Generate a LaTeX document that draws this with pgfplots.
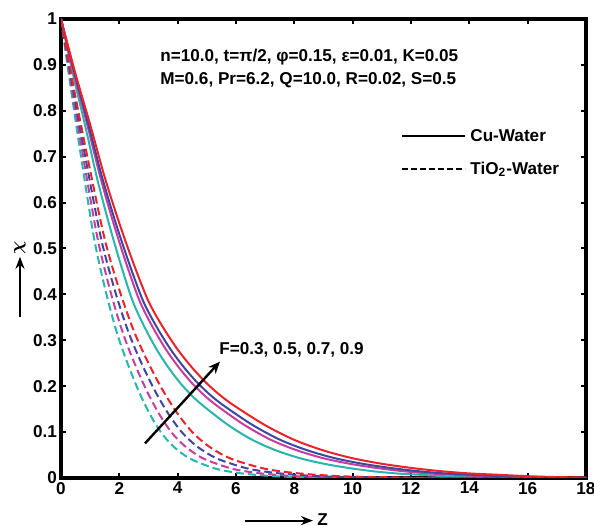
\documentclass[border=0pt]{standalone}
\usepackage{amsmath}
\usepackage{fontspec}
\setmainfont{Liberation Sans}
\usepackage{pgfplots}
\pgfplotsset{compat=1.18}
\usetikzlibrary{arrows.meta}

\definecolor{cred}{RGB}{235,35,40}
\definecolor{cblue}{RGB}{60,72,160}
\definecolor{cmag}{RGB}{200,60,160}
\definecolor{ccyan}{RGB}{40,180,175}

\newcommand{\lbl}{\fontsize{8.6}{10}\selectfont\bfseries}

\begin{document}
\lbl
\begin{tikzpicture}
\path[use as bounding box] (-30.5bp,-24bp) rectangle (266.5bp,239bp);
\begin{axis}[
    at={(0,0)}, anchor=south west,
    scale only axis,
    width=262.5bp, height=229.5bp,
    xmin=0, xmax=18, ymin=0, ymax=1,
    xtick={0,2,4,6,8,10,12,14,16,18},
    xticklabels={0,2,4,6,8,10,12,14,16,18},
    ytick={0,0.1,0.2,0.3,0.4,0.5,0.6,0.7,0.8,0.9,1},
    yticklabels={0,0.1,0.2,0.3,0.4,0.5,0.6,0.7,0.8,0.9,1},
    tick align=inside,
    major tick length=2.5bp,
    tick style={line width=1bp, black},
    axis line style={line width=1.6bp},
    ticklabel style={font=\lbl},
    xticklabel style={yshift=1bp},
    yticklabel style={xshift=1bp},
    clip=true,
]
% Cu-Water (solid), F = 0.3, 0.5, 0.7, 0.9
\addplot[ccyan, line width=1bp, smooth] coordinates {
(0,1) (0.41,0.88) (0.82,0.77) (1.23,0.655) (1.64,0.555) (2.05,0.465) (2.46,0.385)
(2.87,0.328) (3.28,0.28) (3.69,0.24) (4.10,0.206) (4.51,0.178) (4.92,0.155)
(5.74,0.115) (6.56,0.083) (7.38,0.06) (8.2,0.043) (9.02,0.031) (9.84,0.022)
(10.66,0.015) (11.48,0.010) (12.3,0.007) (13.12,0.004) (13.94,0.002) (14.76,0.001) (18,0)};
\addplot[cmag, line width=1bp, smooth] coordinates {
(0,1) (0.45,0.88) (0.9,0.77) (1.35,0.655) (1.8,0.555) (2.25,0.465) (2.7,0.385)
(3.15,0.328) (3.6,0.28) (4.05,0.24) (4.5,0.206) (4.95,0.178) (5.4,0.155)
(6.3,0.115) (7.2,0.083) (8.1,0.06) (9.0,0.043) (9.9,0.031) (10.8,0.022)
(11.7,0.015) (12.6,0.010) (13.5,0.007) (14.4,0.004) (15.3,0.002) (16.2,0.001) (18,0)};
\addplot[cblue, line width=1bp, smooth] coordinates {
(0,1) (0.47,0.88) (0.94,0.77) (1.41,0.655) (1.88,0.555) (2.35,0.465) (2.82,0.385)
(3.29,0.328) (3.76,0.28) (4.23,0.24) (4.70,0.206) (5.17,0.178) (5.64,0.155)
(6.58,0.115) (7.52,0.083) (8.46,0.06) (9.40,0.043) (10.34,0.031) (11.28,0.022)
(12.22,0.015) (13.16,0.010) (14.10,0.007) (15.04,0.004) (15.98,0.002) (16.92,0.001) (18,0)};
\addplot[cred, line width=1bp, smooth] coordinates {
(0,1) (0.5,0.88) (1,0.77) (1.5,0.655) (2,0.555) (2.5,0.465) (3,0.385)
(3.5,0.328) (4,0.28) (4.5,0.24) (5,0.206) (5.5,0.178) (6,0.155)
(7,0.115) (8,0.083) (9,0.06) (10,0.043) (11,0.031) (12,0.022)
(13,0.015) (14,0.010) (15,0.007) (16,0.004) (17,0.002) (18,0.001)};
% TiO2-Water (dashed), F = 0.3, 0.5, 0.7, 0.9
\addplot[ccyan, line width=1bp, smooth, dash pattern=on 4bp off 2bp] coordinates {
(0,1) (0.38,0.83) (0.76,0.67) (1.14,0.52) (1.52,0.41) (1.9,0.32) (2.28,0.25)
(2.66,0.19) (3.04,0.14) (3.42,0.10) (3.8,0.072) (4.18,0.052) (4.56,0.038)
(5.32,0.020) (6.08,0.011) (6.84,0.006) (7.6,0.003) (9.12,0.001) (10.64,0) (18,0)};
\addplot[cmag, line width=1bp, smooth, dash pattern=on 4bp off 2bp] coordinates {
(0,1) (0.42,0.83) (0.84,0.67) (1.26,0.52) (1.68,0.41) (2.1,0.32) (2.52,0.25)
(2.94,0.19) (3.36,0.14) (3.78,0.10) (4.2,0.072) (4.62,0.052) (5.04,0.038)
(5.88,0.020) (6.72,0.011) (7.56,0.006) (8.4,0.003) (10.08,0.001) (11.76,0) (18,0)};
\addplot[cblue, line width=1bp, smooth, dash pattern=on 4bp off 2bp] coordinates {
(0,1) (0.46,0.83) (0.92,0.67) (1.38,0.52) (1.84,0.41) (2.3,0.32) (2.76,0.25)
(3.22,0.19) (3.68,0.14) (4.14,0.10) (4.6,0.072) (5.06,0.052) (5.52,0.038)
(6.44,0.020) (7.36,0.011) (8.28,0.006) (9.2,0.003) (11.04,0.001) (12.88,0) (18,0)};
\addplot[cred, line width=1bp, smooth, dash pattern=on 4bp off 2bp] coordinates {
(0,1) (0.5,0.83) (1,0.67) (1.5,0.52) (2,0.41) (2.5,0.32) (3,0.25)
(3.5,0.19) (4,0.14) (4.5,0.10) (5,0.072) (5.5,0.052) (6,0.038)
(7,0.020) (8,0.011) (9,0.006) (10,0.003) (12,0.001) (14,0) (18,0)};
\end{axis}
% parameter text
\node[anchor=west, inner sep=0pt] at (49.5bp,210.5bp) {n=10.0, t=π/2, φ=0.15, ε=0.01, K=0.05};
\node[anchor=west, inner sep=0pt] at (49.5bp,199bp) {M=0.6, Pr=6.2, Q=10.0, R=0.02, S=0.5};
% legend
\draw[black, line width=0.9bp] (170.5bp,171bp) -- (202bp,171bp);
\node[anchor=west, inner sep=0pt] at (204.5bp,171bp) {Cu-Water};
\draw[black, line width=0.9bp, dash pattern=on 3bp off 1.5bp] (170.5bp,154.5bp) -- (202bp,154.5bp);
\node[anchor=west, inner sep=0pt] at (204.5bp,154.5bp) {TiO\textsubscript{2}-Water};
% F arrow
\draw[line width=1.2bp, -{Stealth[length=6bp,width=5bp]}] (42bp,17.3bp) -- (79.5bp,58.2bp);
\node[anchor=west, inner sep=0pt] at (79bp,64bp) {F=0.3, 0.5, 0.7, 0.9};
% axis labels
\draw[line width=1bp, -{Stealth[length=6bp,width=4.5bp]}] (92bp,-21.3bp) -- (126bp,-21.3bp);
\node[anchor=west, inner sep=0pt] at (128bp,-20.6bp) {Z};
\draw[line width=1bp, -{Stealth[length=6bp,width=4.5bp]}] (-20.5bp,80.6bp) -- (-20.5bp,110.6bp);
\node[anchor=west, inner sep=0pt, rotate=90] at (-20.5bp,111.5bp) {\(\boldsymbol{\chi}\)};
\end{tikzpicture}
\end{document}
